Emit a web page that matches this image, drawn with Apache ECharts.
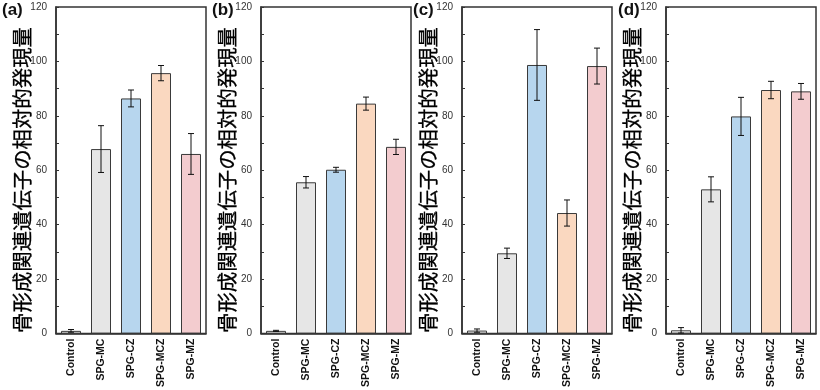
<!DOCTYPE html>
<html><head><meta charset="utf-8">
<script src="https://cdn.jsdelivr.net/npm/echarts@6/dist/echarts.min.js"></script>
<style>html,body{margin:0;padding:0;background:#fff}#c{width:820px;height:390px}</style>
</head><body><div id="c"></div>
<script>
const categories = ['Control', 'SPG-MC', 'SPG-CZ', 'SPG-MCZ', 'SPG-MZ'];
const barColors = ['#ffffff', '#e6e6e6', '#b7d6ee', '#fad8c0', '#f3cccf'];
const yTicks = [0, 20, 40, 60, 80, 100, 120];
const panelLabels = ['(a)', '(b)', '(c)', '(d)'];
const yName = '骨形成関連遺伝子の相対的発現量';
const meanA = [1.0, 67.8, 86.4, 95.7, 66.0];
const errA  = [0.5, 8.6, 3.1, 2.8, 7.5];
const meanB = [1.0, 55.6, 60.2, 84.5, 68.6];
const errB  = [0.2, 2.1, 0.9, 2.4, 2.8];
const meanC = [1.1, 29.5, 98.7, 44.3, 98.3];
const errC  = [0.6, 1.9, 13.0, 4.8, 6.6];
const meanD = [1.2, 53.0, 79.8, 89.5, 89.0];
const errD  = [1.0, 4.6, 7.0, 3.2, 2.9];

const means = [meanA, meanB, meanC, meanD];
const errs = [errA, errB, errC, errD];
const lefts = [56, 261, 462, 666];
const W = 150, TOP = 7, BOTTOM = 55;

const chart = echarts.init(document.getElementById('c'), null, {renderer: 'canvas'});
const grids = [], xAxes = [], yAxes = [], series = [], graphics = [];
for (let i = 0; i < 4; i++) {
  grids.push({left: lefts[i], width: W, top: TOP, bottom: BOTTOM, show: true,
    borderColor: '#333', borderWidth: 1.5, backgroundColor: 'transparent'});
  xAxes.push({type: 'category', gridIndex: i, data: categories,
    axisLine: {lineStyle: {color: '#333', width: 1.5}},
    axisTick: {show: false},
    axisLabel: {rotate: 90, margin: 5, fontSize: 10.5, fontWeight: 'bold',
      fontFamily: 'Liberation Sans, Arial', color: '#111', interval: 0}});
  yAxes.push({type: 'value', gridIndex: i, min: 0, max: 120, interval: 10,
    splitLine: {show: false},
    axisLine: {show: true, lineStyle: {color: '#333', width: 1.5}},
    axisTick: {show: true, inside: true, length: 3, lineStyle: {color: '#333'}},
    axisLabel: {margin: 9, fontSize: 10, fontFamily: 'Liberation Sans, Arial', color: '#333',
      formatter: v => (yTicks.indexOf(v) >= 0 ? String(v) : '')}});
  series.push({type: 'bar', xAxisIndex: i, yAxisIndex: i, barWidth: 20,
    data: means[i].map((v, k) => ({value: v, itemStyle: {color: barColors[k]}})),
    itemStyle: {borderColor: '#3a3a3a', borderWidth: 1}, z: 2});
  series.push({type: 'custom', xAxisIndex: i, yAxisIndex: i, z: 5,
    data: means[i].map((v, k) => [k, v - errs[i][k], v + errs[i][k]]),
    renderItem: function (params, api) {
      const lo = api.coord([api.value(0), api.value(1)]);
      const hi = api.coord([api.value(0), api.value(2)]);
      const cw = 3;
      const st = {stroke: '#111', lineWidth: 1};
      return {type: 'group', children: [
        {type: 'line', shape: {x1: lo[0], y1: lo[1], x2: hi[0], y2: hi[1]}, style: st},
        {type: 'line', shape: {x1: lo[0] - cw, y1: lo[1], x2: lo[0] + cw, y2: lo[1]}, style: st},
        {type: 'line', shape: {x1: hi[0] - cw, y1: hi[1], x2: hi[0] + cw, y2: hi[1]}, style: st}
      ]};
    }});
  graphics.push({type: 'text', x: lefts[i] - 34, y: 180, rotation: Math.PI / 2,
    style: {text: yName, fontSize: 20.4, fontFamily: 'Noto Sans CJK JP', fill: '#000',
      stroke: '#000', lineWidth: 0.3,
      align: 'center', verticalAlign: 'middle'}});
}
const labelX = [2, 212, 413, 618];
for (let i = 0; i < 4; i++) {
  graphics.push({type: 'text', x: labelX[i], y: 2,
    style: {text: panelLabels[i], fontSize: 17, fontWeight: 'bold',
      fontFamily: 'Liberation Sans, Arial', fill: '#111', align: 'left', verticalAlign: 'top'}});
}
chart.setOption({animation: false, grid: grids, xAxis: xAxes, yAxis: yAxes, series: series, graphic: graphics});
</script></body></html>
